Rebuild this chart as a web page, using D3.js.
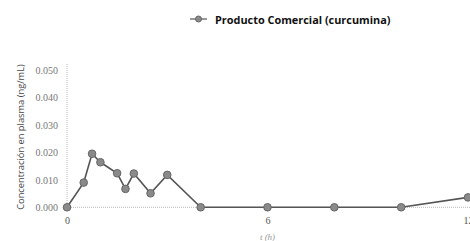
<!DOCTYPE html>
<html><head><meta charset="utf-8">
<script src="https://cdn.jsdelivr.net/npm/d3@7"></script>
<style>body{margin:0;background:#fff}svg{display:block}</style>
</head><body>
<script>
const times = [0, 0.5, 0.75, 1, 1.5, 1.75, 2, 2.5, 3, 4, 6, 8, 10, 12];
const conc = [0, 0.009, 0.0195, 0.0164, 0.0124, 0.0067, 0.0123, 0.0051, 0.0118, 0, 0, 0, 0, 0.0036];
const yTicks = [0, 0.01, 0.02, 0.03, 0.04, 0.05];
const xTicks = [0, 6, 12];
const seriesName = "Producto Comercial (curcumina)";
const yTitle = "Concentración en plasma (ng/mL)";
const xTitle = "t (h)";

const W = 470, H = 241;
const svg = d3.select("body").append("svg").attr("width", W).attr("height", H);
const x = d3.scaleLinear().domain([0, 12]).range([67, 468]);
const y = d3.scaleLinear().domain([0, 0.05]).range([207.3, 70]);

svg.append("line").attr("x1", x(0)).attr("x2", W).attr("y1", y(0)).attr("y2", y(0))
  .attr("stroke", "#bbb").attr("stroke-dasharray", "1,1").attr("stroke-width", 1);
svg.append("line").attr("x1", x(0)).attr("x2", x(0)).attr("y1", y(0.05) - 6).attr("y2", y(0))
  .attr("stroke", "#bbb").attr("stroke-dasharray", "1,1").attr("stroke-width", 1);

const yAxis = d3.axisLeft(y).tickValues(yTicks).tickFormat(d3.format(".3f")).tickSize(0).tickPadding(9);
const gy = svg.append("g").attr("transform", `translate(${x(0)},0)`).call(yAxis);
gy.select(".domain").remove();
gy.selectAll("text").attr("font-family", "'Liberation Serif', serif").attr("font-size", 10).attr("fill", "#777");

const xAxis = d3.axisBottom(x).tickValues(xTicks).tickSize(0).tickPadding(10);
const gx = svg.append("g").attr("transform", `translate(0,${y(0)})`).call(xAxis);
gx.select(".domain").remove();
gx.selectAll("text").attr("font-family", "'Liberation Serif', serif").attr("font-size", 10).attr("fill", "#555");

svg.append("text").attr("x", x(6)).attr("y", 240).attr("text-anchor", "middle")
  .attr("font-family", "'Liberation Serif', serif").attr("font-style", "italic").attr("font-size", 9).attr("fill", "#999").text(xTitle);

svg.append("text").attr("transform", `translate(24,137) rotate(-90)`).attr("text-anchor", "middle")
  .attr("font-family", "'Open Sans', sans-serif").attr("font-size", 9.3).attr("fill", "#444").text(yTitle);

const data = times.map((t, i) => ({t, v: conc[i]}));
svg.append("path").datum(data)
  .attr("d", d3.line().x(d => x(d.t)).y(d => y(d.v)))
  .attr("fill", "none").attr("stroke", "#555").attr("stroke-width", 1.6);
svg.selectAll("circle.pt").data(data).enter().append("circle").attr("class", "pt")
  .attr("cx", d => x(d.t)).attr("cy", d => y(d.v)).attr("r", 3.8)
  .attr("fill", "#8a8a8a").attr("stroke", "#666").attr("stroke-width", 1);

const lg = svg.append("g");
lg.append("line").attr("x1", 190).attr("x2", 207).attr("y1", 19).attr("y2", 19).attr("stroke", "#777").attr("stroke-width", 1.5);
lg.append("circle").attr("cx", 198.5).attr("cy", 19).attr("r", 3).attr("fill", "#8a8a8a").attr("stroke", "#666");
lg.append("text").attr("x", 215).attr("y", 23.5).attr("font-family", "'Open Sans', sans-serif").attr("font-weight", "bold")
  .attr("font-size", 10.9).attr("fill", "#111").text(seriesName);
</script>
</body></html>
